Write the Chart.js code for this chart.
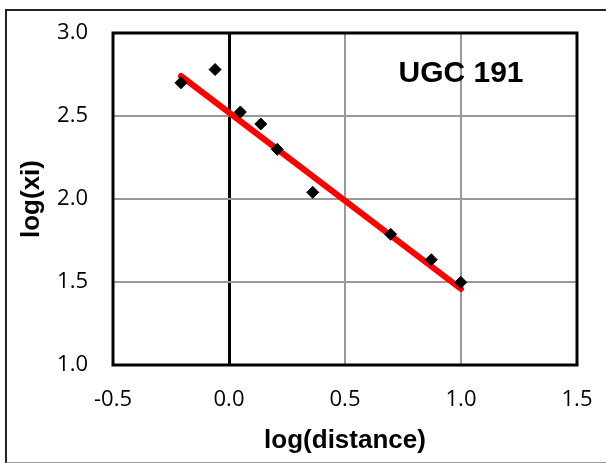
<!DOCTYPE html>
<html>
<head>
<meta charset="utf-8">
<script src="https://cdn.jsdelivr.net/npm/chart.js@4"></script>
<style>
  html, body { margin: 0; padding: 0; background: #fff; overflow: hidden; }
  #wrap { position: relative; width: 606px; height: 463px; }
  #frame {
    position: absolute; left: 5px; top: 9px; width: 700px; height: 451px;
    border-left: 2px solid #222; border-top: 2px solid #222; border-bottom: 2px solid #999;
    pointer-events: none;
  }
</style>
</head>
<body>
<div id="wrap">
  <canvas id="chart1" width="606" height="463"></canvas>
  <div id="frame"></div>
</div>
<script>
const logDistance = [-0.207, -0.06, 0.049, 0.137, 0.208, 0.361, 0.697, 0.872, 0.999];
const logXi = [2.70, 2.78, 2.524, 2.452, 2.299, 2.04, 1.787, 1.634, 1.498];

const fitX = [-0.207, 1.0];
const fitY = [2.741, 1.458];

const xTickLabels = ['-0.5', '0.0', '0.5', '1.0', '1.5'];
const yTickLabels = ['1.0', '1.5', '2.0', '2.5', '3.0'];

const galaxyName = 'UGC 191';

renderChart();

function renderChart() {
  const ctx1 = document.getElementById('chart1');

  const plotBorder = {
    id: 'plotBorder',
    beforeDatasetsDraw(chart) {
      const a = chart.chartArea;
      const c = chart.ctx;
      c.save();
      c.strokeStyle = '#000';
      c.lineWidth = 3;
      c.strokeRect(a.left, a.top, a.right - a.left, a.bottom - a.top);
      c.restore();
    },
    afterDatasetsDraw(chart) {
      const c = chart.ctx;
      const x = chart.scales.x.getPixelForValue(1.0);
      const y = chart.scales.y.getPixelForValue(2.705);
      c.save();
      c.fillStyle = '#000';
      c.font = 'bold 30px "Liberation Sans", Arial, sans-serif';
      c.textAlign = 'center';
      c.textBaseline = 'alphabetic';
      c.fillText(galaxyName, x, y);
      c.restore();
    }
  };

  new Chart(ctx1, {
    type: 'scatter',
    data: {
      datasets: [{
        label: 'data',
        data: logDistance.map((x, i) => ({ x: x, y: logXi[i] })),
        pointStyle: 'rectRot',
        pointRadius: 6,
        pointBackgroundColor: '#000',
        pointBorderColor: '#000',
        pointBorderWidth: 1,
        order: 0
      }, {
        label: 'fit',
        data: fitX.map((x, i) => ({ x: x, y: fitY[i] })),
        showLine: true,
        borderColor: '#ff0000',
        borderWidth: 6,
        borderCapStyle: 'round',
        pointRadius: 0,
        order: 1
      }]
    },
    options: {
      responsive: false,
      animation: false,
      layout: { padding: { left: 6, top: 33, right: 29, bottom: 0 } },
      plugins: {
        legend: { display: false },
        tooltip: { enabled: false }
      },
      scales: {
        x: {
          type: 'linear',
          min: -0.5,
          max: 1.5,
          afterBuildTicks: (s) => { s.ticks = xTickLabels.map(t => ({ value: parseFloat(t) })); },
          afterFit: (s) => {
            s.height = 463 - 365;
            s.paddingLeft = 0;
            s.paddingRight = 0;
          },
          ticks: {
            callback: (v, i) => xTickLabels[i],
            color: '#000',
            padding: 22,
            maxRotation: 0,
            font: { family: '"Open Sans", sans-serif', size: 22 }
          },
          grid: {
            drawTicks: false,
            color: (c) => c.tick && c.tick.value === 0 ? '#000' : '#999',
            lineWidth: (c) => c.tick && c.tick.value === 0 ? 3 : 2
          },
          border: { display: false },
          title: {
            display: true,
            text: 'log(distance)',
            color: '#000',
            padding: { top: 0, bottom: 7 },
            font: { family: '"Liberation Sans", Arial, sans-serif', size: 26, weight: 'bold' }
          }
        },
        y: {
          type: 'linear',
          min: 1,
          max: 3,
          afterBuildTicks: (s) => { s.ticks = yTickLabels.map(t => ({ value: parseFloat(t) })); },
          afterFit: (s) => {
            s.width = 113 - 6;
            s.paddingTop = 0;
            s.paddingBottom = 0;
          },
          ticks: {
            callback: (v, i) => yTickLabels[i],
            color: '#000',
            padding: 25,
            font: { family: '"Open Sans", sans-serif', size: 22 }
          },
          grid: {
            drawTicks: false,
            color: '#999',
            lineWidth: 2
          },
          border: { display: false },
          title: {
            display: true,
            text: 'log(xi)',
            color: '#000',
            padding: { top: 10, bottom: 0 },
            font: { family: '"Liberation Sans", Arial, sans-serif', size: 26, weight: 'bold' }
          }
        }
      }
    },
    plugins: [plotBorder]
  });
}
</script>
</body>
</html>
